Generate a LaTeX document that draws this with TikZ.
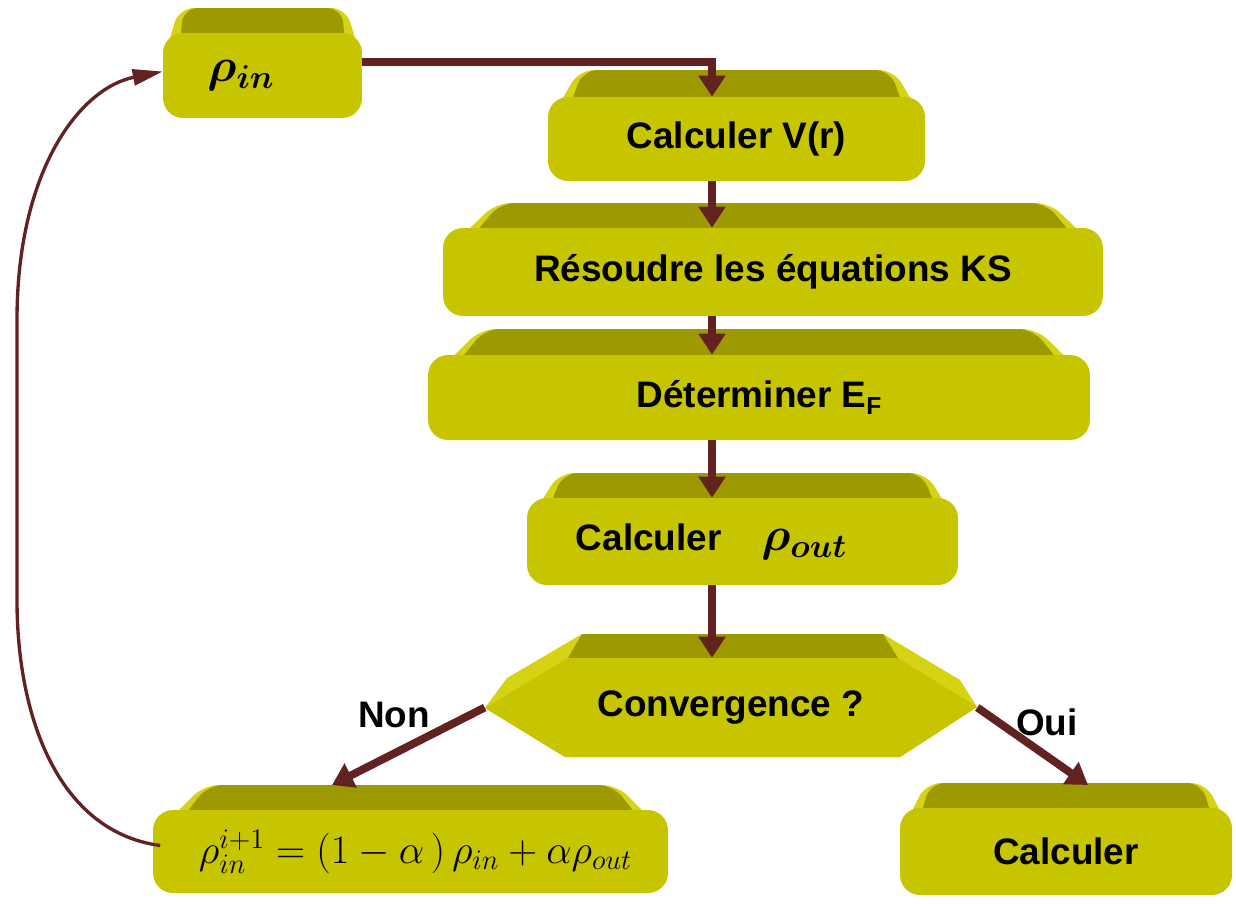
\RequirePackage{fix-cm}
\documentclass[tikz,border=0pt]{standalone}
\usepackage{fontspec}
\setmainfont{Liberation Sans}
\usetikzlibrary{arrows.meta}

\definecolor{faceYellow}{RGB}{199,196,0}
\definecolor{rimYellow}{RGB}{214,210,20}
\definecolor{bandOlive}{RGB}{156,154,0}
\definecolor{arrowBrown}{RGB}{98,34,34}

\begin{document}
\begin{tikzpicture}[x=0.02cm,y=-0.02cm]

% --- Stijldefinities ---
\tikzset{
    faceBox/.style={
        fill=faceYellow,
        rounded corners=0.4cm,
        inner sep=0pt,
        font=\bfseries\fontsize{21}{25}\selectfont
    },
    backBand/.style={
        fill=bandOlive,
        rounded corners=0.3cm
    },
    bevelRim/.style={
        fill=rimYellow,
        rounded corners=0.3cm
    },
    flowArrow/.style={
        -{Triangle[length=0.42cm,width=0.52cm]},
        draw=arrowBrown,
        line width=4.5pt
    },
    loopArrow/.style={
        -{Triangle[length=0.6cm,width=0.32cm]},
        draw=arrowBrown,
        line width=1.9pt
    },
    answerLabel/.style={
        font=\bfseries\fontsize{21}{25}\selectfont
    }
}

\useasboundingbox (0,0) rectangle (1236,903);

% =========================================================
% Achterkanten van de blokken (donkere band bovenaan)
% =========================================================

% rho_in
\fill[bevelRim] (164,58) -- (179,8) -- (346,8) -- (361,58) -- cycle;
\fill[backBand] (179,58) -- (183,8) -- (342,8) -- (346,58) -- cycle;

% V(r)
\fill[bevelRim] (549,122) -- (579,70) -- (894,70) -- (924,122) -- cycle;
\fill[backBand] (564,122) -- (583,70) -- (890,70) -- (909,122) -- cycle;

% KS
\fill[bevelRim] (444,253) -- (496,203) -- (1050,203) -- (1102,253) -- cycle;
\fill[backBand] (459,253) -- (500,203) -- (1046,203) -- (1087,253) -- cycle;

% E_F
\fill[bevelRim] (429,380) -- (481,329) -- (1037,329) -- (1089,380) -- cycle;
\fill[backBand] (444,380) -- (485,329) -- (1033,329) -- (1074,380) -- cycle;

% rho_out
\fill[bevelRim] (528,523) -- (559,473) -- (926,473) -- (957,523) -- cycle;
\fill[backBand] (543,523) -- (563,473) -- (922,473) -- (942,523) -- cycle;

% menging
\fill[bevelRim] (154,835) -- (204,785) -- (617,785) -- (667,835) -- cycle;
\fill[backBand] (169,835) -- (208,785) -- (613,785) -- (652,835) -- cycle;

% Calculer (rechts)
\fill[bevelRim] (901,833) -- (926,783) -- (1206,783) -- (1231,833) -- cycle;
\fill[backBand] (916,833) -- (930,783) -- (1202,783) -- (1216,833) -- cycle;

% Convergentie-zeshoek
\fill[rimYellow] (485,708) -- (507,678) -- (582,634) -- (883,634) -- (960,680)
    -- (977,707) -- (900,757) -- (565,757) -- cycle;
\fill[bandOlive] (582,634) -- (883,634) -- (898,658) -- (568,658) -- cycle;
\fill[faceYellow] (485,708) -- (568,658) -- (898,658) -- (977,707)
    -- (900,757) -- (565,757) -- cycle;

% =========================================================
% Voorkanten met tekst
% =========================================================

\node[faceBox, minimum width=3.98cm, minimum height=1.7cm] (rhoin) at (262.5,75.5)
    {{\fontsize{27}{30}\selectfont\boldmath$\rho_{in}$}\hspace*{0.86cm}};
\node[faceBox, minimum width=7.54cm, minimum height=1.68cm] (vr) at (736.5,139)
    {Calculer V(r)};
\node[faceBox, minimum width=13.2cm, minimum height=1.76cm] (ks) at (773,272)
    {Résoudre les équations KS};
\node[faceBox, minimum width=13.24cm, minimum height=1.7cm] (ef) at (759,397.5)
    {Déterminer E\raisebox{-0.35ex}{\fontsize{14}{14}\selectfont F}};
\node[faceBox, minimum width=8.62cm, minimum height=1.74cm] (rhoout) at (742.5,541.5)
    {Calculer\hspace{0.8cm}{\fontsize{27}{30}\selectfont\boldmath$\rho_{out}$}\hspace*{1.24cm}};
\node[answerLabel, minimum width=9.84cm, minimum height=1.98cm, inner sep=0pt] (conv) at (731,707.5)
    {Convergence ?};
\node[faceBox, minimum width=10.3cm, minimum height=1.66cm, font=\fontsize{23}{27}\selectfont] (mix) at (410.5,851.5)
    {\hspace*{0.2cm}$\rho_{in}^{i+1} = \left(1-\alpha\,\right)\rho_{in} + \alpha\rho_{out}$};
\node[faceBox, minimum width=6.64cm, minimum height=1.74cm] (calc) at (1066,851.5)
    {Calculer};

% Labels bij de uitgangen
\node[answerLabel] (non) at (394,715) {Non};
\node[answerLabel] (oui) at (1047,722) {Oui};

% =========================================================
% Verbindingen
% =========================================================

\coordinate (spine) at (712,0);
\coordinate (nonTip) at (332,785);
\coordinate (ouiTip) at (1088,785);

\draw[flowArrow] ([yshift=0.27cm]rhoin.east) -| (vr.north -| spine);
\draw[flowArrow] (vr.south -| spine) -- (ks.north -| spine);
\draw[flowArrow] (ks.south -| spine) -- (ef.north -| spine);
\draw[flowArrow] (ef.south -| spine) -- (rhoout.north -| spine);
\draw[flowArrow] (rhoout.south -| spine) -- (conv.north -| spine);

\draw[flowArrow] (conv.west) -- (nonTip);
\draw[flowArrow] (conv.east) -- (ouiTip);

% Terugkoppeling
\draw[loopArrow] ([xshift=0.15cm,yshift=0.12cm]mix.west)
    .. controls (60,832) and (17,720) .. (17,600) -- (17,320)
    .. controls (17,170) and (80,88) .. ([yshift=0.08cm]rhoin.west);

\end{tikzpicture}
\end{document}
